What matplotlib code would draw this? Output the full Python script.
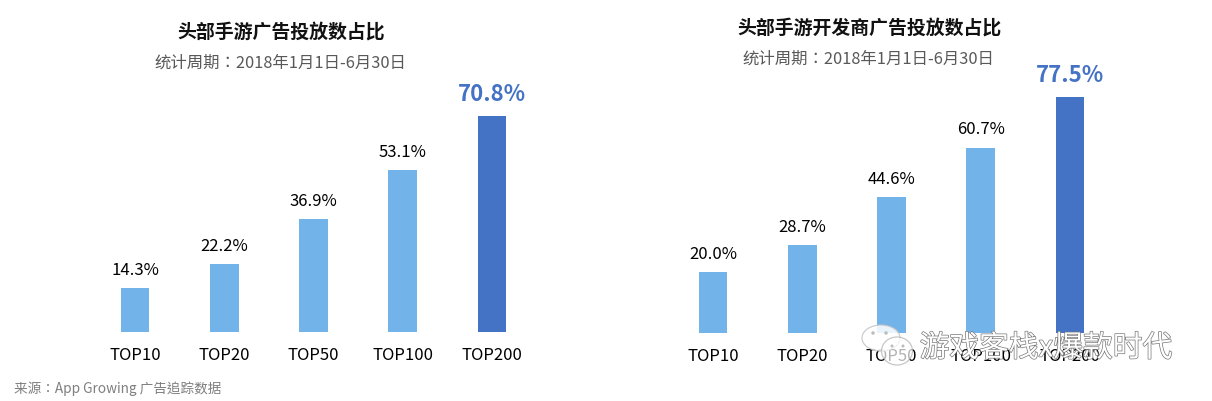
import matplotlib
matplotlib.use("Agg")
import matplotlib.pyplot as plt
import matplotlib.patheffects as pe
from matplotlib.patches import Ellipse

plt.rcParams['font.family'] = ['Noto Sans CJK SC', 'DejaVu Sans']

W, H = 1212, 402

cats_left = ['TOP10', 'TOP20', 'TOP50', 'TOP100', 'TOP200']
vals_left = [14.3, 22.2, 36.9, 53.1, 70.8]
cats_right = ['TOP10', 'TOP20', 'TOP50', 'TOP100', 'TOP200']
vals_right = [20.0, 28.7, 44.6, 60.7, 77.5]

title_left = '头部手游广告投放数占比'
title_right = '头部手游开发商广告投放数占比'
period = '统计周期：2018年1月1日-6月30日'
source = '来源：App Growing 广告追踪数据'
watermark = '游戏客栈x爆款时代'

light = '#72B4EA'
dark = '#4472C4'

fig = plt.figure(figsize=(W / 100, H / 100), dpi=100)


def panel(x0, x1, base, top, cats, vals):
    # axes spans pixel box, y scale is value -> pixel
    ax = fig.add_axes([x0 / W, 1 - base / H, (x1 - x0) / W, (base - top) / H])
    colors = [light] * 4 + [dark]
    ax.bar(range(5), vals, width=0.32, color=colors)
    ax.set_xlim(-0.5, 4.5)
    ax.set_ylim(0, 80)
    ax.set_xticks(range(5))
    ax.set_xticklabels(cats, fontsize=12, color='black')
    ax.tick_params(axis='x', length=0, pad=10)
    ax.set_yticks([])
    for s in ax.spines.values():
        s.set_visible(False)
    for i, v in enumerate(vals):
        if i == 4:
            ax.text(i, v + 3.6, f'{v:.1f}%', ha='center', va='bottom', fontsize=16,
                    fontweight='bold', color=dark)
        else:
            ax.text(i, v + 3.4, f'{v:.1f}%', ha='center', va='bottom', fontsize=12, color='black')
    return ax


panel(90.4, 536.6, 333, 89, cats_left, vals_left)
panel(668.4, 1114.6, 334, 90, cats_right, vals_right)

fig.text(281 / W, 1 - 32 / H, title_left, ha='center', va='center', fontsize=13.6, fontweight='bold', color='#111111')
fig.text(280 / W, 1 - 63 / H, period, ha='center', va='center', fontsize=11.8, color='#595959', family='Noto Sans CJK TC')
fig.text(869 / W, 1 - 28 / H, title_right, ha='center', va='center', fontsize=13.6, fontweight='bold', color='#111111')
fig.text(868 / W, 1 - 59 / H, period, ha='center', va='center', fontsize=11.8, color='#595959', family='Noto Sans CJK TC')
fig.text(14 / W, 1 - 389 / H, source, ha='left', va='center', fontsize=9.8, color='#7f7f7f', family='Noto Sans CJK TC')

# wechat logo + watermark sit on top of the right panel labels
over = fig.add_axes([0, 0, 1, 1], facecolor='none')
over.set_xlim(0, W)
over.set_ylim(H, 0)
over.axis('off')
over.add_patch(Ellipse((881, 339), 38, 26, fc='white', ec='#c4c4c4', lw=0.9, alpha=0.85))
over.add_patch(Ellipse((897, 352), 31, 28, fc='white', ec='#b0b0b0', lw=0.9, alpha=0.7))
over.add_patch(Ellipse((873, 334), 3.5, 3.5, fc='#bdbdbd', ec='none'))
over.add_patch(Ellipse((886, 334), 3.5, 3.5, fc='#bdbdbd', ec='none'))
over.add_patch(Ellipse((892, 347), 3, 3, fc='#bdbdbd', ec='none'))
over.add_patch(Ellipse((903, 347), 3, 3, fc='#bdbdbd', ec='none'))
over.text(1046, 349, watermark, ha='center', va='center', fontsize=21.4, color='white',
          path_effects=[pe.withStroke(linewidth=1.0, foreground='#777777')])

fig.savefig('out.png', dpi=100)
